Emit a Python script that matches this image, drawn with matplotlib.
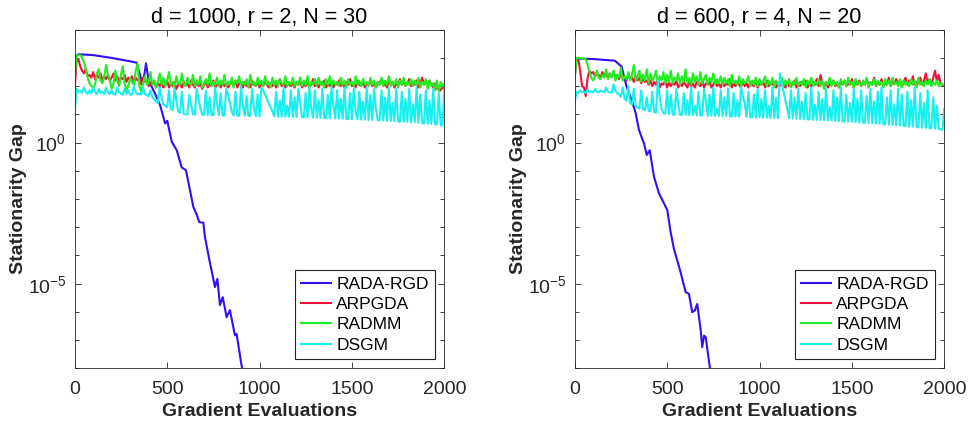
import numpy as np
import matplotlib
matplotlib.use("Agg")
import matplotlib.pyplot as plt
from matplotlib.ticker import NullFormatter

plt.rc("font", family=["Liberation Sans", "DejaVu Sans"], size=13)
plt.rc("mathtext", default="regular")

# gradient evaluations for the noisy baselines (every 10)
evals = np.arange(0, 2001, 10)

# ---------------- d = 1000, r = 2, N = 30 ----------------
rada_x_1 = [0, 20, 100, 200, 300, 335, 362, 375, 386, 400, 430, 462, 489, 501, 525, 552,
            579, 602, 642, 660, 674, 696, 705, 730, 759, 772, 786, 801, 822, 840, 867, 876, 903, 915]
rada_log_1 = [3.0, 3.13, 3.10, 3.00, 2.88, 2.83, 2.20, 2.33, 2.81, 2.20, 1.80, 1.33, 0.68, 0.77, 0.03, -0.27,
              -0.88, -0.98, -2.28, -2.55, -2.82, -2.84, -3.35, -4.20, -5.12, -4.83, -5.76, -5.48, -6.19, -5.94,
              -6.83, -6.78, -7.90, -8.30]

arpgda_log_1 = [
    1.90, 2.90, 2.95, 2.70, 2.55, 2.45, 2.60, 2.35, 2.40, 2.30, 2.50, 2.25, 2.40, 2.30, 2.45, 2.20, 2.35, 2.25, 2.40, 2.20,
    2.30, 2.45, 2.20, 2.35, 2.15, 2.30, 2.25, 2.40, 2.15, 2.30, 2.20, 2.35, 2.10, 2.30, 2.20, 2.25, 2.05, 2.30, 2.15, 2.20,
    2.00, 2.15, 2.05, 2.20, 1.95, 2.10, 2.00, 2.15, 1.95, 2.05, 2.20, 1.95, 2.10, 2.00, 2.15, 1.90, 2.05, 2.10, 1.95, 2.15,
    2.00, 2.10, 1.95, 2.20, 2.05, 1.95, 2.15, 2.00, 2.10, 1.90, 2.05, 2.15, 1.95, 2.10, 2.00, 2.20, 1.95, 2.05, 2.10, 1.95,
    2.15, 2.00, 2.10, 1.95, 2.05, 2.15, 2.00, 2.20, 1.95, 2.10, 2.05, 1.95, 2.15, 2.00, 2.10, 1.95, 2.20, 2.05, 2.00, 2.15,
    1.95, 2.10, 2.00, 2.20, 2.05, 1.95, 2.10, 2.00, 2.15, 1.95, 2.05, 2.25, 2.00, 2.10, 1.95, 2.15, 2.05, 2.00, 2.10, 1.95,
    2.15, 2.05, 2.20, 1.95, 2.10, 2.00, 2.15, 1.95, 2.05, 2.25, 2.00, 2.10, 1.95, 2.15, 2.05, 2.20, 1.95, 2.10, 2.00, 2.15,
    1.95, 2.10, 2.05, 2.20, 2.00, 2.10, 1.95, 2.15, 2.05, 2.25, 2.00, 2.10, 1.95, 2.20, 2.05, 2.00, 2.15, 1.95, 2.10, 2.05,
    2.20, 2.00, 2.10, 1.95, 2.15, 2.05, 2.25, 2.00, 2.10, 1.95, 2.20, 2.05, 2.15, 1.95, 2.10, 2.00, 2.25, 2.05, 2.15, 2.00,
    2.10, 2.25, 2.00, 2.15, 2.05, 2.20, 1.95, 2.10, 2.30, 2.05, 2.15, 2.00, 2.20, 2.05, 1.95, 2.10, 1.90, 2.00, 1.85, 1.95,
    1.90]

radmm_log_1 = [
    2.30, 3.05, 3.10, 3.10, 3.00, 2.85, 2.60, 2.30, 2.10, 2.00, 1.95, 2.05, 2.45, 2.60, 2.20, 2.10, 2.35, 2.75, 2.40, 2.20,
    1.90, 2.10, 2.55, 2.20, 2.00, 2.40, 2.70, 2.10, 1.85, 2.00, 2.30, 2.15, 2.05, 2.55, 2.80, 2.00, 1.80, 2.10, 2.35, 2.05,
    2.10, 2.50, 2.05, 2.20, 1.95, 2.15, 2.45, 2.05, 2.30, 2.00, 2.20, 2.50, 2.05, 2.15, 1.95, 2.35, 2.10, 2.05, 2.45, 2.10,
    2.00, 2.30, 2.10, 2.05, 2.40, 2.00, 2.20, 2.05, 2.35, 1.95, 2.10, 2.25, 2.05, 2.45, 2.00, 2.15, 2.05, 2.30, 2.00, 2.20,
    2.05, 2.40, 2.00, 2.15, 2.05, 2.30, 1.95, 2.20, 2.10, 2.35, 2.00, 2.15, 2.05, 2.25, 1.95, 2.40, 2.05, 2.15, 2.00, 2.30,
    2.05, 2.20, 2.00, 2.35, 2.05, 2.15, 1.95, 2.30, 2.05, 2.20, 2.00, 2.25, 2.10, 2.05, 2.35, 2.00, 2.15, 2.05, 2.30, 2.00,
    2.15, 2.05, 2.30, 2.00, 2.20, 2.05, 2.35, 1.95, 2.15, 2.05, 2.25, 2.00, 2.30, 2.05, 2.15, 1.95, 2.25, 2.05, 2.35, 2.00,
    2.20, 2.05, 2.15, 2.00, 2.30, 2.05, 2.20, 1.95, 2.25, 2.05, 2.15, 2.00, 2.35, 2.05, 2.20, 2.00, 2.25, 2.05, 2.15, 2.00,
    2.30, 2.05, 2.20, 1.95, 2.15, 2.05, 2.30, 2.00, 2.20, 2.05, 2.35, 2.00, 2.15, 2.05, 2.25, 1.95, 2.20, 2.05, 2.30, 2.00,
    2.15, 2.05, 2.25, 2.00, 2.20, 2.05, 2.30, 1.95, 2.15, 2.05, 2.25, 1.90, 2.20, 2.00, 2.10, 1.85, 2.20, 1.80, 2.15, 2.00,
    2.10]

dsgm_log_1 = [
    1.05, 1.90, 1.80, 1.85, 1.75, 1.95, 1.80, 1.72, 1.85, 1.75, 1.95, 1.78, 1.72, 1.90, 1.75, 1.80, 1.72, 1.95, 1.78, 1.72,
    1.85, 1.72, 1.70, 1.95, 1.80, 1.72, 1.70, 1.90, 1.72, 1.85, 1.70, 1.70, 2.00, 1.80, 1.70, 1.75, 1.70, 1.95, 1.72, 1.68,
    1.65, 1.85, 1.60, 1.55, 1.45, 1.40, 1.95, 1.60, 1.35, 1.30, 1.25, 1.85, 1.20, 1.15, 1.90, 1.50, 1.10, 1.05, 1.80, 1.02,
    1.00, 1.00, 1.70, 1.35, 1.00, 0.99, 1.90, 1.55, 1.20, 0.99, 0.98, 1.85, 0.98, 1.60, 0.98, 0.97, 1.95, 1.40, 0.97, 1.75,
    0.96, 0.96, 1.90, 1.70, 1.40, 1.10, 0.96, 1.80, 0.95, 0.95, 2.00, 1.30, 0.95, 1.65, 0.94, 0.94, 1.90, 1.20, 0.94, 1.70,
    0.93, 1.95, 1.85, 1.70, 1.55, 1.40, 1.25, 1.10, 0.93, 1.80, 0.92, 1.50, 0.92, 1.95, 0.92, 1.30, 0.91, 1.85, 0.91, 1.60,
    0.90, 1.90, 1.40, 0.90, 0.89, 1.75, 0.89, 1.95, 1.20, 0.88, 1.85, 0.88, 1.50, 0.87, 1.90, 0.87, 0.86, 1.70, 0.86, 1.95,
    1.30, 0.85, 1.85, 0.85, 1.55, 0.84, 1.95, 0.84, 0.83, 1.75, 0.83, 1.90, 1.10, 0.82, 1.80, 0.82, 1.45, 0.81, 1.95, 0.80,
    1.70, 0.80, 1.90, 1.20, 0.79, 0.78, 1.85, 0.78, 1.60, 0.77, 1.95, 0.76, 1.40, 0.76, 1.90, 0.75, 0.74, 1.80, 0.74, 1.55,
    0.73, 1.90, 0.72, 1.35, 0.72, 1.95, 0.70, 1.70, 0.69, 0.68, 1.85, 0.67, 1.50, 0.66, 1.90, 0.65, 0.64, 1.75, 0.62, 0.61,
    1.90]

# ---------------- d = 600, r = 4, N = 20 ----------------
rada_x_2 = [0, 100, 218, 254, 281, 308, 330, 348, 375, 390, 406, 429, 456, 501, 519, 537,
            573, 600, 618, 636, 650, 663, 681, 690, 700, 709, 732, 740]
rada_log_2 = [2.98, 2.96, 2.90, 2.69, 1.98, 1.51, 1.04, 0.44, -0.03, -0.44, -0.27, -1.21, -1.80, -2.39,
              -3.17, -3.77, -4.59, -5.30, -5.36, -6.01, -5.95, -5.72, -6.60, -7.25, -6.84, -6.90, -8.00, -8.30]

arpgda_log_2 = [
    2.30, 2.90, 2.95, 2.50, 2.00, 1.95, 1.65, 2.30, 2.55, 2.45, 2.50, 2.35, 2.45, 2.40, 2.30, 2.50, 2.35, 2.40, 2.30, 2.45,
    2.35, 2.50, 2.30, 2.40, 2.25, 2.45, 2.30, 2.35, 2.20, 2.40, 2.25, 2.30, 2.15, 2.35, 2.20, 2.30, 2.10, 2.25, 2.15, 2.20,
    2.05, 2.20, 2.00, 2.15, 2.05, 2.25, 1.95, 2.10, 2.05, 2.20, 1.95, 2.15, 2.00, 2.10, 2.05, 2.20, 1.95, 2.10, 2.00, 2.15,
    2.05, 1.95, 2.20, 2.00, 2.10, 1.95, 2.15, 2.05, 2.00, 2.20, 1.95, 2.10, 2.05, 2.15, 1.95, 2.05, 2.20, 2.00, 2.10, 1.95,
    2.15, 2.00, 2.10, 2.05, 2.25, 1.95, 2.10, 2.00, 2.15, 2.05, 1.95, 2.20, 2.00, 2.10, 1.95, 2.15, 2.05, 2.00, 2.20, 1.95,
    2.10, 2.05, 2.15, 1.95, 2.20, 2.00, 2.10, 2.05, 2.15, 1.95, 2.10, 2.00, 2.25, 2.05, 1.95, 2.15, 2.00, 2.10, 2.05, 2.20,
    1.95, 2.10, 2.00, 2.15, 2.05, 2.20, 1.95, 2.10, 2.00, 2.15, 2.05, 2.25, 2.00, 2.40, 2.10, 2.00, 2.15, 1.95, 2.10, 2.05,
    2.20, 2.00, 2.10, 1.95, 2.15, 2.05, 2.20, 2.00, 2.10, 2.05, 2.25, 1.95, 2.15, 2.05, 2.20, 2.00, 2.10, 2.05, 2.25, 2.00,
    2.15, 2.05, 2.30, 2.00, 2.15, 2.05, 2.25, 2.00, 2.10, 2.05, 2.30, 2.00, 2.15, 2.10, 2.25, 2.05, 2.20, 2.00, 2.15, 2.30,
    2.05, 2.20, 2.10, 2.35, 2.05, 2.15, 2.10, 2.30, 2.05, 2.20, 2.45, 2.10, 2.25, 2.05, 2.30, 2.55, 2.15, 2.40, 2.10, 2.05,
    2.00]

radmm_log_2 = [
    2.30, 3.00, 3.00, 3.00, 2.98, 2.98, 2.95, 2.75, 2.50, 2.30, 2.20, 2.35, 2.55, 2.30, 2.25, 2.40, 2.30, 2.60, 2.25, 2.45,
    2.30, 2.55, 2.20, 2.40, 2.30, 2.65, 2.20, 2.35, 2.25, 2.50, 2.20, 2.40, 2.75, 2.20, 2.30, 2.55, 2.15, 2.40, 2.20, 2.60,
    2.10, 2.45, 2.20, 2.30, 2.55, 2.10, 2.35, 2.20, 2.50, 2.10, 2.40, 2.15, 2.55, 2.10, 2.30, 2.20, 2.45, 2.05, 2.35, 2.15,
    2.60, 2.10, 2.30, 2.05, 2.45, 2.15, 2.35, 2.05, 2.50, 2.10, 2.25, 2.40, 2.05, 2.30, 2.15, 2.45, 2.05, 2.25, 2.10, 2.35,
    2.05, 2.30, 2.10, 2.25, 2.00, 2.40, 2.10, 2.20, 2.05, 2.35, 2.00, 2.25, 2.10, 2.15, 2.35, 2.00, 2.20, 2.05, 2.30, 2.00,
    2.25, 2.05, 2.15, 2.35, 2.00, 2.20, 2.05, 2.30, 1.95, 2.20, 2.05, 2.15, 2.30, 2.00, 2.20, 2.05, 2.25, 1.95, 2.15, 2.05,
    2.30, 2.00, 2.15, 2.05, 2.25, 1.95, 2.20, 2.05, 2.30, 2.00, 2.15, 2.05, 2.25, 2.00, 2.20, 1.90, 2.15, 2.05, 2.30, 2.00,
    2.20, 2.05, 2.15, 1.95, 2.25, 2.05, 2.20, 2.00, 2.30, 2.05, 2.15, 1.95, 2.25, 2.05, 2.15, 2.00, 2.20, 2.05, 2.30, 1.95,
    2.15, 2.05, 2.25, 2.00, 2.20, 2.05, 2.15, 1.95, 2.25, 2.05, 2.20, 2.00, 2.30, 2.05, 2.15, 2.00, 2.25, 1.95, 2.20, 2.05,
    2.15, 2.00, 2.25, 2.05, 2.20, 1.95, 2.30, 2.05, 2.15, 2.00, 2.20, 2.05, 2.25, 2.00, 2.15, 2.05, 2.20, 2.00, 2.10, 2.05,
    2.05]

dsgm_log_2 = [
    1.40, 1.80, 1.75, 1.85, 1.78, 1.80, 1.76, 1.88, 1.78, 1.82, 1.78, 1.90, 1.80, 1.78, 1.85, 1.80, 1.80, 1.95, 1.80, 1.78,
    1.76, 2.05, 1.85, 1.75, 1.70, 1.62, 1.95, 1.55, 1.48, 2.00, 1.40, 1.35, 1.90, 1.30, 1.25, 1.20, 1.85, 1.18, 1.15, 1.60,
    1.12, 1.10, 1.80, 1.08, 1.06, 2.20, 1.60, 1.20, 1.04, 1.02, 1.85, 1.00, 1.70, 0.99, 0.99, 1.90, 1.35, 0.98, 0.98, 1.75,
    0.98, 1.50, 0.97, 1.95, 0.97, 1.30, 0.96, 1.80, 0.96, 0.96, 1.90, 1.45, 0.95, 1.70, 0.95, 1.95, 0.95, 1.20, 0.94, 1.85,
    0.94, 1.60, 0.93, 1.90, 0.93, 0.93, 1.75, 0.92, 1.50, 0.92, 1.95, 1.65, 1.40, 0.91, 1.80, 0.90, 0.90, 1.70, 0.89, 1.90,
    0.89, 1.55, 0.88, 1.85, 0.88, 1.30, 0.87, 1.95, 0.87, 1.60, 0.86, 2.45, 2.10, 1.80, 1.50, 1.20, 0.86, 1.85, 0.85, 1.60,
    0.84, 1.90, 0.84, 1.45, 0.83, 1.75, 0.82, 0.82, 1.95, 0.81, 1.35, 0.80, 1.80, 0.80, 1.55, 0.79, 1.90, 0.78, 1.25, 0.78,
    1.85, 0.77, 1.60, 0.76, 1.95, 0.75, 0.75, 1.70, 0.74, 1.40, 0.73, 1.90, 0.72, 1.55, 0.71, 1.85, 0.70, 0.70, 1.65, 0.69,
    1.90, 0.68, 1.45, 0.67, 1.80, 0.66, 1.95, 0.65, 0.64, 1.60, 0.63, 1.85, 0.62, 1.35, 0.61, 1.90, 0.60, 1.70, 0.59, 0.58,
    1.80, 0.57, 1.50, 0.56, 1.95, 0.55, 0.54, 1.75, 0.53, 1.40, 0.52, 1.85, 0.51, 0.50, 1.60, 0.49, 1.30, 0.48, 0.47, 0.46,
    1.20]

titles = ["d = 1000, r = 2, N = 30", "d = 600, r = 4, N = 20"]
labels = ["RADA-RGD", "ARPGDA", "RADMM", "DSGM"]
colors = ["#3010f5", "#f5103c", "#20ee20", "#18f0f0"]
dark = "#262626"

panels = [
    (rada_x_1, rada_log_1, arpgda_log_1, radmm_log_1, dsgm_log_1),
    (rada_x_2, rada_log_2, arpgda_log_2, radmm_log_2, dsgm_log_2),
]

fig = plt.figure(figsize=(9.68, 4.24), dpi=100)
lefts = [74.7 / 968, 574.7 / 968]
for i, (rx, rlog, alog, mlog, dlog) in enumerate(panels):
    ax = fig.add_axes([lefts[i], 1 - 368.3 / 424, 369.6 / 968, 338.6 / 424])
    ax.plot(rx, 10.0 ** np.array(rlog), color=colors[0], lw=1.5, label=labels[0])
    ax.plot(evals, 10.0 ** np.array(alog), color=colors[1], lw=1.5, label=labels[1])
    ax.plot(evals, 10.0 ** np.array(mlog), color=colors[2], lw=1.5, label=labels[2])
    ax.plot(evals, 10.0 ** np.array(dlog), color=colors[3], lw=1.5, label=labels[3])
    ax.set_yscale("log")
    ax.set_xlim(0, 2000)
    ax.set_ylim(1e-8, 1e4)
    ax.set_xticks([0, 500, 1000, 1500, 2000])
    ax.set_yticks([1e-5, 1e0])
    ax.set_yticks([10.0 ** k for k in range(-8, 5)], minor=True)
    ax.yaxis.set_minor_formatter(NullFormatter())
    ax.set_yticklabels([r"$10^{-5}$", r"$10^{0}$"])
    ax.tick_params(which="both", direction="in", top=True, right=True, colors=dark,
                   labelsize=14)
    ax.tick_params(axis="x", pad=9)
    ax.tick_params(axis="y", pad=6)
    ax.tick_params(which="major", length=4, width=0.6)
    ax.tick_params(which="minor", length=3, width=0.6)
    for s in ax.spines.values():
        s.set_color(dark)
        s.set_linewidth(0.6)
    ax.set_title(titles[i], fontsize=15.5, pad=5, color="black")
    ax.set_xlabel("Gradient Evaluations", fontweight="bold", fontsize=14, color=dark, labelpad=4)
    ax.set_ylabel("Stationarity Gap", fontweight="bold", fontsize=14, color=dark)
    ax.yaxis.set_label_coords(-(74.7 - 27) / 369.6, 0.5)
    leg = ax.legend(loc="lower right", fontsize=12.5, fancybox=False, framealpha=1,
                    edgecolor=dark, borderaxespad=0.55, handlelength=1.7, handletextpad=0.3,
                    labelspacing=0.3, borderpad=0.35)
    leg.get_frame().set_linewidth(0.8)

fig.savefig("out.png", dpi=100)
